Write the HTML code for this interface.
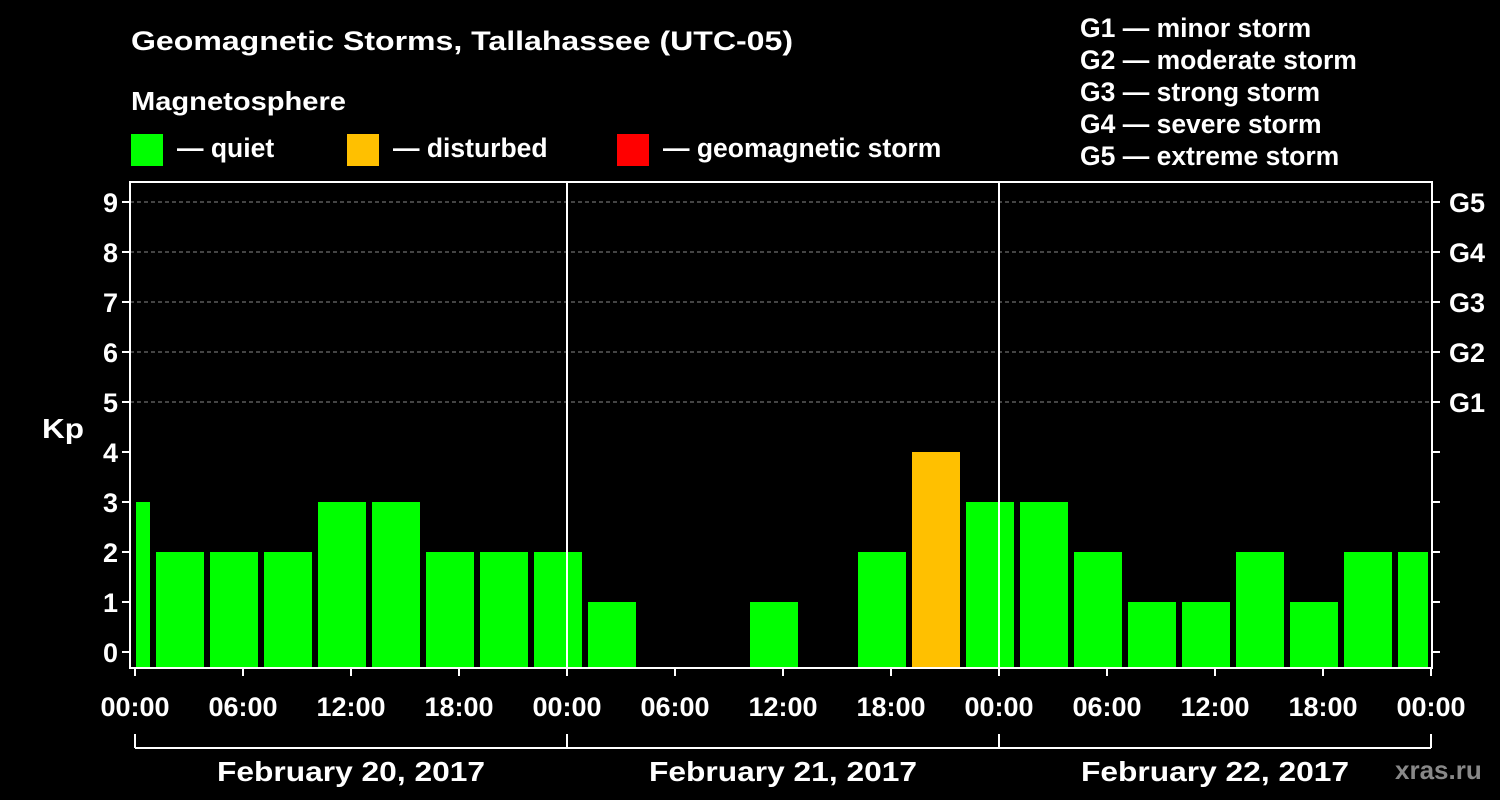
<!DOCTYPE html>
<html><head><meta charset="utf-8"><style>
html,body{margin:0;padding:0;background:#000;}
svg{display:block;font-family:"Liberation Sans",Arial,sans-serif;font-weight:bold;}
</style></head><body>
<svg id="c" width="1500" height="800" viewBox="0 0 1500 800">
<rect width="1500" height="800" fill="#000"/>
<text x="131" y="50" font-size="27" textLength="662" lengthAdjust="spacingAndGlyphs" fill="#fff">Geomagnetic Storms, Tallahassee (UTC-05)</text>
<text x="131" y="110" font-size="26" textLength="215" lengthAdjust="spacingAndGlyphs" fill="#fff">Magnetosphere</text>
<g font-size="26.5" fill="#fff">
<g><rect x="131" y="134" width="32" height="32" fill="#00ff00"/><text x="177" y="157">— quiet</text></g>
<g><rect x="347" y="134" width="32" height="32" fill="#ffc000"/><text x="393" y="157">— disturbed</text></g>
<g><rect x="617" y="134" width="32" height="32" fill="#ff0000"/><text x="663" y="157">— geomagnetic storm</text></g>
</g>
<g font-size="26.5" fill="#fff">
<text x="1080" y="37">G1 — minor storm</text>
<text x="1080" y="69">G2 — moderate storm</text>
<text x="1080" y="101">G3 — strong storm</text>
<text x="1080" y="133">G4 — severe storm</text>
<text x="1080" y="165">G5 — extreme storm</text>
</g>
<text x="42" y="438" font-size="28" textLength="42" lengthAdjust="spacingAndGlyphs" fill="#fff">Kp</text>
<text x="1395" y="779" font-size="26" fill="#888">xras.ru</text>
<g id="grid"></g><g id="bars"></g><g id="axes"></g>
</svg>
<script>
const kpValues=[3,2,2,2,3,3,2,2,2,1,0,0,1,0,2,4,3,3,2,1,1,2,1,2,2];
const yTicks=[0,1,2,3,4,5,6,7,8,9];
const stormLabels=["G1","G2","G3","G4","G5"];
const timeLabels=["00:00","06:00","12:00","18:00","00:00","06:00","12:00","18:00","00:00","06:00","12:00","18:00","00:00"];
const dayLabels=["February 20, 2017","February 21, 2017","February 22, 2017"];
const binStartHour=-2, binHours=3, totalHours=72;
const X0=135, PX_H=18, Y0=652, PX_K=50, PL=130, PR=1432, PT=182, PB=668;
const xs=h=>X0+h*PX_H, ys=k=>Y0-k*PX_K;
const NS="http://www.w3.org/2000/svg";
function mk(p,t,a){const e=document.createElementNS(NS,t);for(const k in a)e.setAttribute(k,a[k]);p.appendChild(e);return e;}
const grid=document.getElementById('grid'),bars=document.getElementById('bars'),axes=document.getElementById('axes');
yTicks.forEach(k=>{if(k>=5){const l=mk(grid,'line',{x1:PL,x2:PR,y1:ys(k),y2:ys(k),stroke:'#888','stroke-dasharray':'4,3','stroke-width':1});

}});
kpValues.forEach((v,i)=>{if(v<=0)return;let a=xs(binStartHour+i*binHours)+3,b=xs(binStartHour+(i+1)*binHours)-3;a=Math.max(a,X0+1);b=Math.min(b,xs(totalHours)-3);
const r=mk(bars,'rect',{x:a,y:ys(v),width:b-a,height:PB-ys(v),fill:v>=5?'#ff0000':(v>=4?'#ffc000':'#00ff00')});

});
[24,48].forEach(h=>{const l=mk(axes,'line',{x1:xs(h),x2:xs(h),y1:PT,y2:PB,stroke:'#fff','stroke-width':2});

});
const fr=mk(axes,'rect',{x:PL,y:PT,width:PR-PL,height:PB-PT,fill:'none',stroke:'#fff','stroke-width':2});


yTicks.forEach(k=>{mk(axes,'line',{x1:PL-8,x2:PL,y1:ys(k),y2:ys(k),stroke:'#fff','stroke-width':2});
mk(axes,'line',{x1:PR,x2:PR+8,y1:ys(k),y2:ys(k),stroke:'#fff','stroke-width':2});
const t=mk(axes,'text',{x:PL-12,y:ys(k)+10,'font-size':27,fill:'#fff','text-anchor':'end'});t.textContent=k;


if(k>=5){const g=mk(axes,'text',{x:PR+17,y:ys(k)+10,'font-size':27,fill:'#fff'});g.textContent=stormLabels[k-5];

}});
timeLabels.forEach((s,i)=>{const x=xs(i*6);mk(axes,'line',{x1:x,x2:x,y1:PB,y2:PB+8,stroke:'#fff','stroke-width':2});
const t=mk(axes,'text',{x:x,y:716,'font-size':27,fill:'#fff','text-anchor':'middle'});t.textContent=s;

});
mk(axes,'line',{x1:xs(0),x2:xs(72),y1:748,y2:748,stroke:'#fff','stroke-width':2});
[0,24,48,72].forEach(h=>mk(axes,'line',{x1:xs(h),x2:xs(h),y1:734,y2:748,stroke:'#fff','stroke-width':2}));
dayLabels.forEach((s,i)=>{const t=mk(axes,'text',{x:xs(i*24+12),y:781,'font-size':28,textLength:268,lengthAdjust:'spacingAndGlyphs',fill:'#fff','text-anchor':'middle'});t.textContent=s;

});
</script>
</body></html>
